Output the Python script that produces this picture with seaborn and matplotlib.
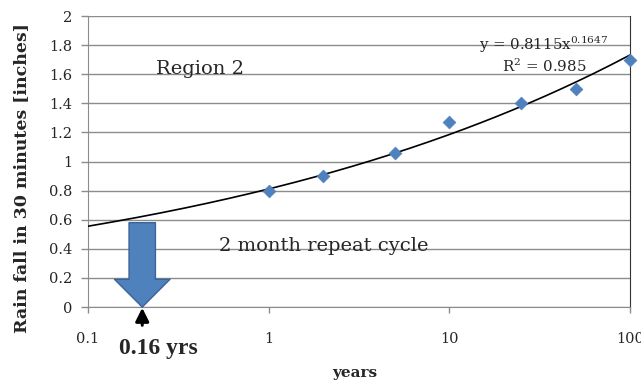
import numpy as np
import pandas as pd
import seaborn as sns
import matplotlib
matplotlib.use("Agg")
import matplotlib.pyplot as plt
from matplotlib.ticker import NullLocator

# data
years = [1, 2, 5, 10, 25, 50, 100]
rain = [0.80, 0.90, 1.06, 1.27, 1.40, 1.50, 1.70]

# power trendline as printed on the chart
fit_a = 0.8115
fit_b = 0.1647
r_squared = 0.985

y_ticks = [0, 0.2, 0.4, 0.6, 0.8, 1.0, 1.2, 1.4, 1.6, 1.8, 2.0]
y_tick_labels = ['0', '0.2', '0.4', '0.6', '0.8', '1', '1.2', '1.4', '1.6', '1.8', '2']
x_ticks = [0.1, 1, 10, 100]
x_tick_labels = ['0.1', '1', '10', '100']

# block arrow marking the 2 month cycle
cycle_x = 0.2
cycle_top = 0.58

sns.set_style("white")
plt.rcParams['font.family'] = ['DejaVu Serif']
plt.rcParams['mathtext.default'] = 'regular'

grid_col = '#8c8c8c'
blue = '#4F81BD'

fig = plt.figure(figsize=(6.41, 3.81), dpi=100)
ax = fig.add_axes([0.137, 0.194, 0.846, 0.764])

trend = pd.DataFrame({'x': np.logspace(-1, 2, 200)})
trend['y'] = fit_a * trend['x'] ** fit_b
sns.lineplot(data=trend, x='x', y='y', color='black', lw=1.2, ax=ax, zorder=3)

pts = pd.DataFrame({'years': years, 'rain': rain})
sns.scatterplot(data=pts, x='years', y='rain', marker='D', s=42, color=blue,
                edgecolor=blue, ax=ax, zorder=4, clip_on=False)

ax.set_xscale('log')
ax.set_xlim(0.1, 100)
ax.set_ylim(0, 2)
ax.set_xticks(x_ticks, x_tick_labels)
ax.xaxis.set_minor_locator(NullLocator())
ax.set_yticks(y_ticks, y_tick_labels)
ax.yaxis.grid(True, color=grid_col, lw=1)
ax.xaxis.grid(False)
ax.tick_params(axis='y', left=True, length=5, width=1, color=grid_col, pad=6, labelsize=10.5)
ax.tick_params(axis='x', bottom=True, length=4, width=1, color=grid_col, pad=14, labelsize=10.5)

ax.spines['top'].set_visible(False)
ax.spines['right'].set_color('#333333')
ax.spines['left'].set_color(grid_col)
ax.spines['bottom'].set_color(grid_col)

ax.set_xlabel('years', fontsize=11, fontweight='bold', va='center')
ax.xaxis.set_label_coords(0.493, -0.227)
ax.set_ylabel('Rain fall in 30 minutes [inches]', fontsize=12.5, fontweight='bold', va='center')
ax.yaxis.set_label_coords(-0.122, 0.443)

ax.text(0.207, 0.818, 'Region 2', transform=ax.transAxes, fontsize=14,
        ha='center', va='center')
ax.text(0.435, 0.21, '2 month repeat cycle', transform=ax.transAxes, fontsize=14,
        ha='center', va='center')
ax.text(0.841, 0.90, 'y = %.4fx$^{%.4f}$' % (fit_a, fit_b), transform=ax.transAxes,
        fontsize=10.8, ha='center', va='center')
ax.text(0.841, 0.828, 'R$^{2}$ = %.3f' % r_squared, transform=ax.transAxes,
        fontsize=10.8, ha='center', va='center')

ax.annotate('', xy=(cycle_x, 0), xytext=(cycle_x, cycle_top),
            arrowprops=dict(arrowstyle='simple,head_length=1.0,head_width=2.0,tail_width=0.95',
                            mutation_scale=20, fc=blue, ec='#3B6497', lw=1,
                            shrinkA=0, shrinkB=0), zorder=5)

ax.annotate('', xy=(cycle_x, -0.005), xytext=(cycle_x, -0.125),
            arrowprops=dict(arrowstyle='-|>,head_length=0.8,head_width=0.4',
                            color='black', lw=2.2, shrinkA=0, shrinkB=0),
            annotation_clip=False)
ax.text(0.131, -0.141, '0.16 yrs', transform=ax.transAxes, fontsize=17,
        fontweight='bold', family='Liberation Serif', ha='center', va='center')

fig.savefig('out.png', dpi=100)
